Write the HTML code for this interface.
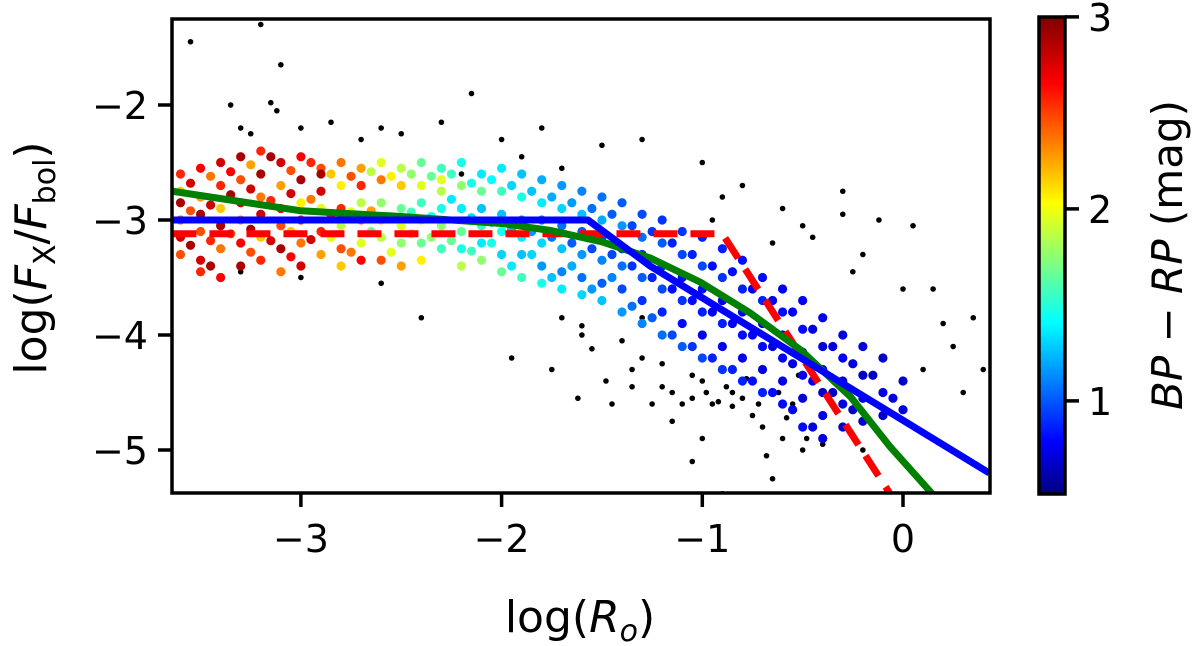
<!DOCTYPE html>
<html><head><meta charset="utf-8"><style>
body{margin:0;background:#fff}
svg{display:block;font-family:"DejaVu Sans","Liberation Sans",sans-serif}
</style></head><body>
<svg id="chart" width="1200" height="646" viewBox="0 0 1200 646">
<defs>
<linearGradient id="jet" x1="0" y1="1" x2="0" y2="0">
<stop offset="0" stop-color="#00007f"/><stop offset="0.11" stop-color="#0000ff"/><stop offset="0.36" stop-color="#00ffff"/><stop offset="0.61" stop-color="#ffff00"/><stop offset="0.86" stop-color="#ff0000"/><stop offset="1" stop-color="#7f0000"/>
</linearGradient>
<clipPath id="plotclip"><rect x="172" y="19" width="818" height="474"/></clipPath>
</defs>
<g id="black-dots" clip-path="url(#plotclip)"></g>
<g id="color-dots" clip-path="url(#plotclip)"></g>
<g id="lines" clip-path="url(#plotclip)"></g>
<rect x="172" y="19" width="818" height="474" fill="none" stroke="#000" stroke-width="3.5"/>
<g id="xticks"></g>
<g id="yticks"></g>
<text x="580" y="632" font-size="44" text-anchor="middle">log(<tspan font-style="italic">R</tspan><tspan font-style="italic" font-size="30" dy="9">o</tspan><tspan dy="-9">)</tspan></text>
<text transform="translate(46,258) rotate(-90)" font-size="44" text-anchor="middle">log(<tspan font-style="italic">F</tspan><tspan font-size="30" dy="9">X</tspan><tspan dy="-9">/</tspan><tspan font-style="italic">F</tspan><tspan font-size="30" dy="9">bol</tspan><tspan dy="-9">)</tspan></text>
<rect x="1039" y="17" width="26" height="477" fill="url(#jet)" stroke="#000" stroke-width="3.5"/>
<g id="cticks"></g>
<text transform="translate(1182,255) rotate(-90)" font-size="42" text-anchor="middle"><tspan font-style="italic">BP</tspan> − <tspan font-style="italic">RP</tspan> (mag)</text>
</svg>
<script>
const xTicks=[-3,-2,-1,0];
const yTicks=[-2,-3,-4,-5];
const cTicks=[1,2,3];
const blueX=[-3.64,-1.57,-1.26,0.43];
const blueY=[-3.0,-3.0,-3.4,-5.2];
const redX=[-3.64,-0.9,-0.05];
const redY=[-3.12,-3.12,-5.42];
const greenX=[-3.64,-3.0,-2.5,-2.0,-1.76,-1.5,-1.26,-1.01,-0.76,-0.51,-0.26,-0.065,0.135,0.18];
const greenY=[-2.75,-2.92,-2.97,-3.03,-3.09,-3.19,-3.33,-3.54,-3.81,-4.13,-4.54,-4.97,-5.36,-5.45];
const colored=[
[-3.6,-2.6,2.6],[-3.6,-2.85,2.9],[-3.6,-3.0,2.4],[-3.6,-3.15,2.8],[-3.6,-3.3,2.5],[-3.6,-2.75,2.2],
[-3.5,-2.55,2.7],[-3.5,-2.8,2.3],[-3.5,-2.95,2.9],[-3.5,-3.1,2.5],[-3.5,-3.35,2.8],[-3.5,-3.45,2.6],
[-3.4,-2.5,2.8],[-3.4,-2.7,2.6],[-3.4,-2.9,2.2],[-3.4,-3.05,2.9],[-3.4,-3.25,2.4],[-3.4,-3.5,2.7],
[-3.3,-2.45,2.9],[-3.3,-2.65,2.5],[-3.3,-2.85,2.8],[-3.3,-3.0,2.3],[-3.3,-3.2,2.7],[-3.3,-3.4,2.9],
[-3.2,-2.4,2.6],[-3.2,-2.6,2.9],[-3.2,-2.8,2.4],[-3.2,-2.95,2.8],[-3.2,-3.15,2.2],[-3.2,-3.35,2.6],
[-3.1,-2.5,2.8],[-3.1,-2.7,2.3],[-3.1,-2.9,2.7],[-3.1,-3.05,2.5],[-3.1,-3.25,2.9],[-3.1,-3.45,2.4],
[-3.0,-2.45,2.7],[-3.0,-2.65,2.9],[-3.0,-2.85,2.1],[-3.0,-3.0,2.6],[-3.0,-3.2,2.4],[-3.0,-3.4,2.8],
[-2.9,-2.55,2.5],[-2.9,-2.75,2.8],[-2.9,-2.9,2.0],[-2.9,-3.1,2.6],[-2.9,-3.3,2.3],[-2.9,-2.6,2.9],
[-2.8,-2.5,2.4],[-2.8,-2.7,2.1],[-2.8,-2.9,2.6],[-2.8,-3.05,1.9],[-2.8,-3.25,2.5],[-2.8,-3.4,2.2],
[-2.7,-2.55,2.3],[-2.7,-2.7,2.6],[-2.7,-2.85,1.9],[-2.7,-3.0,2.4],[-2.7,-3.2,2.0],[-2.7,-3.35,2.7],
[-2.6,-2.5,2.0],[-2.6,-2.65,2.4],[-2.6,-2.85,1.8],[-2.6,-3.0,2.2],[-2.6,-3.15,1.9],[-2.6,-3.35,2.5],
[-2.5,-2.55,1.9],[-2.5,-2.7,2.2],[-2.5,-2.9,1.7],[-2.5,-3.05,2.0],[-2.5,-3.2,1.8],[-2.5,-3.4,2.3],
[-2.4,-2.5,1.7],[-2.4,-2.7,2.0],[-2.4,-2.85,1.6],[-2.4,-3.0,1.9],[-2.4,-3.2,1.7],[-2.4,-3.35,2.1],
[-2.3,-2.55,1.6],[-2.3,-2.75,1.9],[-2.3,-2.9,1.5],[-2.3,-3.05,1.8],[-2.3,-3.25,1.6],[-2.3,-2.65,2.0],
[-2.2,-2.5,1.5],[-2.2,-2.7,1.8],[-2.2,-2.9,1.4],[-2.2,-3.1,1.7],[-2.2,-3.25,1.5],[-2.2,-3.4,1.9],
[-2.1,-2.6,1.4],[-2.1,-2.75,1.7],[-2.1,-2.9,1.3],[-2.1,-3.05,1.6],[-2.1,-3.2,1.4],[-2.1,-3.35,1.8],
[-2.0,-2.55,1.4],[-2.0,-2.75,1.6],[-2.0,-2.95,1.3],[-2.0,-3.1,1.5],[-2.0,-3.3,1.35],[-2.0,-3.45,1.7],
[-1.9,-2.6,1.3],[-1.9,-2.8,1.5],[-1.9,-3.0,1.2],[-1.9,-3.15,1.4],[-1.9,-3.3,1.3],[-1.9,-3.5,1.6],
[-1.8,-2.65,1.25],[-1.8,-2.85,1.4],[-1.8,-3.0,1.15],[-1.8,-3.2,1.35],[-1.8,-3.4,1.2],[-1.8,-3.55,1.5],
[-1.7,-2.7,1.2],[-1.7,-2.9,1.35],[-1.7,-3.05,1.1],[-1.7,-3.25,1.3],[-1.7,-3.45,1.15],[-1.7,-3.6,1.4],
[-1.6,-2.75,1.15],[-1.6,-2.95,1.3],[-1.6,-3.1,1.05],[-1.6,-3.3,1.2],[-1.6,-3.5,1.1],[-1.6,-3.65,1.35],
[-1.5,-2.8,1.1],[-1.5,-3.0,1.25],[-1.5,-3.15,1.0],[-1.5,-3.35,1.15],[-1.5,-3.55,1.05],[-1.5,-3.7,1.3],
[-1.4,-2.85,1.05],[-1.4,-3.05,1.2],[-1.4,-3.25,0.95],[-1.4,-3.4,1.1],[-1.4,-3.6,1.0],[-1.4,-3.8,1.2],
[-1.3,-2.95,1.0],[-1.3,-3.15,1.1],[-1.3,-3.3,0.9],[-1.3,-3.5,1.05],[-1.3,-3.7,0.95],[-1.3,-3.9,1.15],
[-1.2,-3.0,0.95],[-1.2,-3.2,1.05],[-1.2,-3.4,0.9],[-1.2,-3.6,1.0],[-1.2,-3.8,0.9],[-1.2,-4.0,1.1],
[-1.1,-3.1,0.95],[-1.1,-3.3,1.0],[-1.1,-3.5,0.85],[-1.1,-3.7,0.95],[-1.1,-3.9,0.85],[-1.1,-4.1,1.05],
[-1.0,-3.15,0.9],[-1.0,-3.4,1.0],[-1.0,-3.6,0.85],[-1.0,-3.8,0.9],[-1.0,-4.0,0.8],[-1.0,-4.2,1.0],
[-0.9,-3.25,0.9],[-0.9,-3.5,0.95],[-0.9,-3.7,0.8],[-0.9,-3.9,0.9],[-0.9,-4.1,0.8],[-0.9,-4.3,0.95],
[-0.8,-3.35,0.85],[-0.8,-3.6,0.9],[-0.8,-3.8,0.8],[-0.8,-4.0,0.85],[-0.8,-4.2,0.8],[-0.8,-4.4,0.9],
[-0.7,-3.5,0.85],[-0.7,-3.7,0.9],[-0.7,-3.9,0.8],[-0.7,-4.1,0.85],[-0.7,-4.3,0.75],[-0.7,-4.5,0.9],
[-0.6,-3.6,0.8],[-0.6,-3.8,0.85],[-0.6,-4.0,0.75],[-0.6,-4.2,0.8],[-0.6,-4.4,0.75],[-0.6,-4.6,0.85],
[-0.5,-3.7,0.8],[-0.5,-3.95,0.85],[-0.5,-4.15,0.75],[-0.5,-4.35,0.8],[-0.5,-4.55,0.75],[-0.5,-4.8,0.85],
[-0.4,-3.85,0.8],[-0.4,-4.1,0.75],[-0.4,-4.3,0.8],[-0.4,-4.5,0.7],[-0.4,-4.7,0.8],[-0.4,-4.9,0.75],
[-0.3,-4.0,0.75],[-0.3,-4.2,0.8],[-0.3,-4.4,0.7],[-0.3,-4.6,0.75],[-0.3,-4.8,0.7],
[-0.2,-4.1,0.75],[-0.2,-4.35,0.7],[-0.2,-4.55,0.75],[-0.2,-4.75,0.7],
[-0.1,-4.2,0.7],[-0.1,-4.5,0.75],[-0.1,-4.7,0.7],
[0.0,-4.4,0.7],[0.0,-4.65,0.75]
];
const coloredExtra=[
[-3.55,-2.68,2.8],[-3.55,-2.92,2.5],[-3.55,-3.22,2.9],[-3.45,-2.62,2.4],[-3.45,-2.87,2.8],[-3.45,-3.18,2.6],[-3.45,-3.4,2.9],
[-3.35,-2.58,2.7],[-3.35,-2.78,2.9],[-3.35,-3.12,2.5],[-3.25,-2.52,2.3],[-3.25,-2.73,2.8],[-3.25,-3.08,2.9],[-3.25,-3.28,2.5],
[-3.15,-2.45,2.9],[-3.15,-2.83,2.6],[-3.15,-3.18,2.8],[-3.05,-2.57,2.5],[-3.05,-2.77,2.8],[-3.05,-3.1,2.2],[-3.05,-3.32,2.7],
[-2.95,-2.5,2.6],[-2.95,-2.82,2.4],[-2.95,-3.17,2.8],[-2.85,-2.6,2.2],[-2.85,-2.95,2.7],[-2.85,-3.15,2.0],
[-2.75,-2.62,2.5],[-2.75,-2.93,2.1],[-2.75,-3.28,2.4],[-2.65,-2.58,1.9],[-2.65,-2.92,2.3],[-2.65,-3.1,1.7],
[-2.55,-2.62,2.1],[-2.55,-2.97,1.8],[-2.55,-3.28,2.0],[-2.45,-2.6,1.8],[-2.45,-2.93,1.6],[-2.45,-3.12,1.9],
[-2.35,-2.62,1.7],[-2.35,-2.97,1.5],[-2.35,-3.15,1.8],[-2.25,-2.6,1.6],[-2.25,-2.82,1.4],[-2.25,-3.18,1.7],
[-2.15,-2.68,1.5],[-2.15,-2.98,1.35],[-2.15,-3.27,1.6],[-2.05,-2.65,1.45],[-2.05,-3.02,1.3],[-2.05,-3.2,1.5],
[-1.95,-2.7,1.35],[-1.95,-3.08,1.25],[-1.95,-3.4,1.4],[-1.85,-2.75,1.3],[-1.85,-3.1,1.2],[-1.85,-3.3,1.35],
[-1.75,-2.8,1.25],[-1.75,-3.15,1.1],[-1.75,-3.5,1.3],[-1.65,-2.85,1.2],[-1.65,-3.2,1.05],[-1.65,-3.4,1.25],
[-1.55,-2.9,1.1],[-1.55,-3.25,1.0],[-1.55,-3.6,1.2],[-1.45,-2.95,1.05],[-1.45,-3.3,1.0],[-1.45,-3.5,1.15],
[-1.35,-3.05,1.0],[-1.35,-3.4,0.95],[-1.35,-3.75,1.1],[-1.25,-3.1,0.95],[-1.25,-3.5,0.9],[-1.25,-3.85,1.05],
[-1.15,-3.2,0.9],[-1.15,-3.6,0.85],[-1.15,-4.0,1.0],[-1.05,-3.3,0.9],[-1.05,-3.7,0.85],[-1.05,-4.1,0.95],
[-0.95,-3.4,0.85],[-0.95,-3.8,0.8],[-0.95,-4.2,0.9],[-0.85,-3.45,0.85],[-0.85,-3.9,0.8],[-0.85,-4.3,0.9],
[-0.75,-3.6,0.8],[-0.75,-4.0,0.8],[-0.75,-4.4,0.85],[-0.65,-3.7,0.8],[-0.65,-4.1,0.75],[-0.65,-4.5,0.85],
[-0.55,-3.8,0.8],[-0.55,-4.25,0.75],[-0.55,-4.65,0.8],[-0.45,-3.95,0.75],[-0.45,-4.4,0.8],[-0.45,-4.8,0.75],
[-0.35,-4.1,0.75],[-0.35,-4.5,0.7],[-0.25,-4.25,0.75],[-0.25,-4.65,0.7],[-0.15,-4.35,0.7],[-0.05,-4.55,0.75]
];
const black=[[-3.55,-1.45],[-3.2,-1.3],[-3.1,-1.65],[-3.35,-2.0],[-3.15,-1.98],[-3.12,-2.05],[-3.3,-2.2],[-3.25,-2.25],[-3.0,-2.2],[-2.85,-2.15],[-2.7,-2.3],[-2.5,-2.25],[-2.3,-2.15],[-2.15,-1.9],[-2.0,-2.3],[-1.8,-2.2],[-1.5,-2.35],[-1.3,-2.3],[-1.0,-2.5],[-0.8,-2.7],[-0.6,-2.9],[-0.3,-2.95],[0.05,-3.05],[-0.2,-3.3],[0.2,-3.9],[0.4,-4.3],[0.3,-4.5],[0.1,-4.3],[0.0,-3.6],[-3.3,-3.45],[-3.0,-3.5],[-2.6,-3.55],[-2.4,-3.85],[-1.95,-4.2],[-1.6,-4.0],[-1.35,-4.3],[-1.25,-4.6],[-1.1,-4.1],[-1.0,-4.4],[-0.95,-4.6],[-0.85,-4.5],[-0.75,-4.7],[-0.7,-4.3],[-0.6,-4.9],[-0.5,-5.0],[-0.4,-4.95],[-0.65,-5.25],[-1.15,-4.75],[-1.45,-4.6],[-0.9,-5.38],[-1.05,-4.55],[-0.8,-4.2],[-1.2,-4.45],[-0.55,-4.6],[-1.3,-3.85],[-0.2,-5.0],[-2.2,-2.6],[-1.7,-2.55],
[-1.7,-3.85],[-1.6,-3.92],[-1.55,-4.12],[-1.4,-4.05],[-1.3,-4.2],[-1.2,-4.25],[-1.15,-4.5],[-1.1,-4.6],[-1.05,-4.35],[-0.98,-4.5],[-0.92,-4.58],[-0.88,-4.45],[-0.85,-4.62],[-0.8,-4.55],[-0.78,-4.38],[-0.72,-4.6],[-0.7,-4.8],[-0.68,-5.05],[-0.62,-4.5],[-0.58,-4.72],[-0.52,-4.35],[-0.48,-4.9],[-1.0,-4.9],[-1.05,-5.1],[-1.35,-4.45],[-1.48,-4.4],[-1.62,-4.55],[-1.75,-4.3],[-0.3,-2.75],[-0.45,-3.15],[-0.25,-3.45],[0.15,-3.6],[0.25,-4.1],[0.35,-3.85],[-0.95,-3.0],[-0.9,-2.8],[-0.65,-3.2],[-0.12,-3.0],[-0.5,-3.05],[-1.9,-2.45],[-2.6,-2.2]];

const NS='http://www.w3.org/2000/svg';
function X(v){return 903+(v)*200.7;}
function Y(v){return 220-(v+3)*115;}
function C(v){return 494-(v-0.515)*192;}
function jet(v){
  let t=(v-0.515)/(3-0.515); t=Math.max(0,Math.min(1,t));
  const r=Math.max(0,Math.min(1,1.5-Math.abs(4*t-3)));
  const g=Math.max(0,Math.min(1,1.5-Math.abs(4*t-2)));
  const b=Math.max(0,Math.min(1,1.5-Math.abs(4*t-1)));
  return `rgb(${Math.round(r*255)},${Math.round(g*255)},${Math.round(b*255)})`;
}
function mk(tag,attrs,parent){const e=document.createElementNS(NS,tag);for(const k in attrs)e.setAttribute(k,attrs[k]);parent.appendChild(e);return e;}

const bd=document.getElementById('black-dots');
black.forEach(p=>{
  const c=mk('circle',{cx:X(p[0]),cy:Y(p[1]),r:2.8,fill:'#000'},bd);
  
  
});
const cd=document.getElementById('color-dots');
colored.concat(coloredExtra).forEach(p=>{
  const c=mk('circle',{cx:X(p[0]),cy:Y(p[1]),r:4.6,fill:jet(p[2])},cd);
  
  
});
const lg=document.getElementById('lines');
function poly(xs,ys,color,dash,name){
  const pts=xs.map((x,i)=>X(x)+','+Y(ys[i])).join(' ');
  const l=mk('polyline',{points:pts,fill:'none',stroke:color,'stroke-width':7,'stroke-linejoin':'round'},lg);
  if(dash)l.setAttribute('stroke-dasharray',dash);
  
  
}
poly(redX,redY,'#ff0000','24,13','red-dashed-fit');
poly(greenX,greenY,'#008000',null,'green-fit');
poly(blueX,blueY,'#0000ff',null,'blue-fit');

const xt=document.getElementById('xticks');
xTicks.forEach(v=>{
  const l=mk('line',{x1:X(v),x2:X(v),y1:493,y2:507,stroke:'#000','stroke-width':3.5},xt);
  
  
  const t=mk('text',{x:X(v),y:552,'font-size':38,'text-anchor':'middle'},xt);
  t.textContent=v<0?'−'+Math.abs(v):String(v);
  
  
});
const yt=document.getElementById('yticks');
yTicks.forEach(v=>{
  const l=mk('line',{x1:158,x2:172,y1:Y(v),y2:Y(v),stroke:'#000','stroke-width':3.5},yt);
  
  
  const t=mk('text',{x:148,y:Y(v)+14,'font-size':38,'text-anchor':'end'},yt);
  t.textContent='−'+Math.abs(v);
  
  
});
const ct=document.getElementById('cticks');
cTicks.forEach(v=>{
  const l=mk('line',{x1:1065,x2:1079,y1:C(v),y2:C(v),stroke:'#000','stroke-width':3.5},ct);
  
  
  const t=mk('text',{x:1088,y:C(v)+14,'font-size':38},ct);
  t.textContent=String(v);
  
  
});
</script>
</body></html>
